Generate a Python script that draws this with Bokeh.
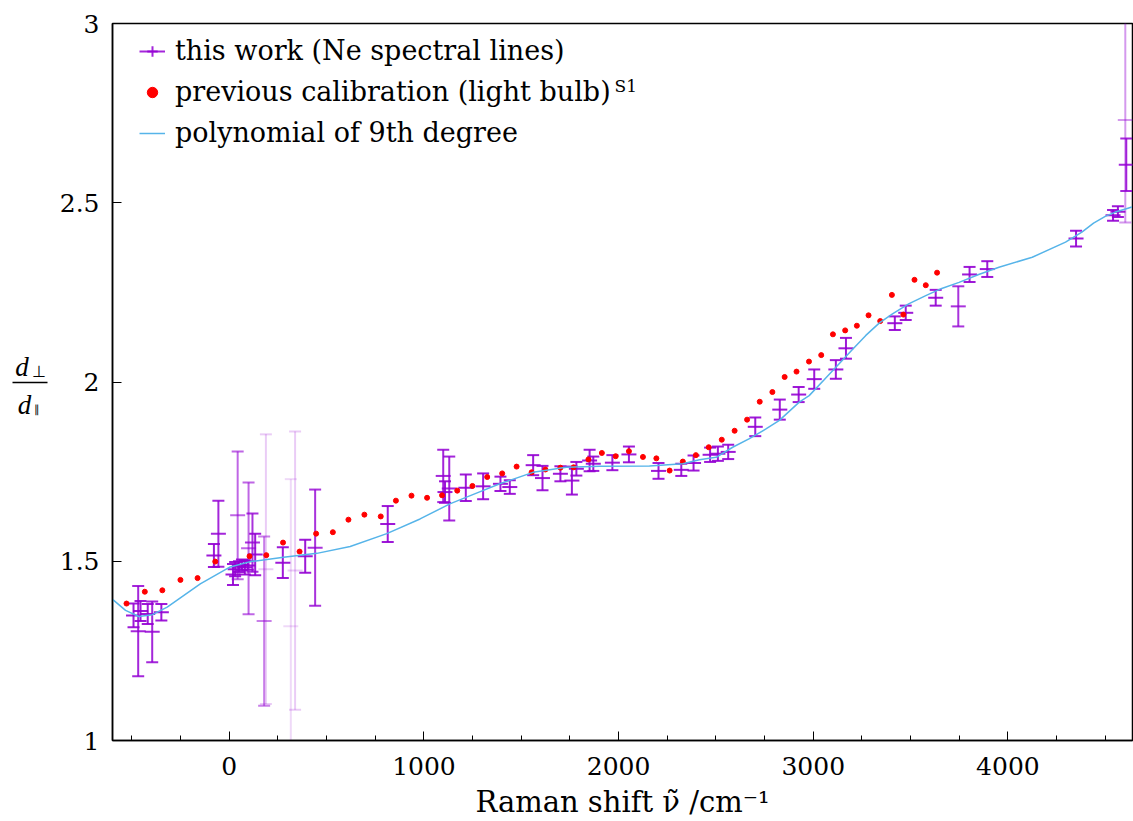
from bokeh.plotting import figure
from bokeh.layouts import row
from bokeh.models import (Range1d, FixedTicker, Label, Legend, LegendItem,
                          ColumnDataSource)
from bokeh.embed import file_html
from bokeh.resources import INLINE

# ---------------- data ----------------
# this work (Ne spectral lines): Raman shift, ratio, error, opacity (weight)
ne_x = [-492, -468, -456, -419, -396, -349,
        -79, -56, 19, 30, 50, 65, 80, 95, 43, 99, 119, 133, 179, 188, 275, 316, 338, 390, 441,
        814, 1099, 1108, 1130, 1215, 1304, 1393, 1441, 1561, 1609, 1701, 1760, 1783, 1851, 1870,
        1968, 2053, 2205, 2322, 2385, 2470, 2510, 2563, 2702, 2828, 2925, 3005, 3116, 3168,
        3419, 3475, 3629, 3745, 3803, 3894, 4350, 4540, 4565, 4608, 4603]
ne_y = [1.349, 1.305, 1.361, 1.353, 1.303, 1.358,
        1.516, 1.577, 1.463, 1.478, 1.485, 1.490, 1.483, 1.488, 1.628, 1.536, 1.552, 1.519,
        1.333, 1.478, 1.496, 1.319, 1.474, 1.514, 1.538,
        1.604, 1.738, 1.693, 1.703, 1.705, 1.709, 1.716, 1.707, 1.768, 1.732, 1.744, 1.725,
        1.758, 1.781, 1.772, 1.775, 1.798, 1.752, 1.755, 1.774, 1.797, 1.800, 1.805, 1.875,
        1.923, 1.965, 2.008, 2.035, 2.094, 2.164, 2.193, 2.235, 2.211, 2.300, 2.315, 2.400,
        2.465, 2.475, 2.606, 2.731]
ne_err = [0.033, 0.126, 0.028, 0.028, 0.085, 0.023,
          0.032, 0.092, 0.029, 0.020, 0.015, 0.015, 0.020, 0.012, 0.178, 0.184, 0.081, 0.058,
          0.236, 0.376, 0.043, 0.410, 0.388, 0.046, 0.162,
          0.050, 0.073, 0.030, 0.089, 0.037, 0.036, 0.020, 0.019, 0.028, 0.034, 0.021, 0.039,
          0.019, 0.030, 0.020, 0.021, 0.022, 0.022, 0.017, 0.021, 0.020, 0.020, 0.020, 0.026,
          0.028, 0.021, 0.027, 0.026, 0.029, 0.019, 0.020, 0.022, 0.056, 0.021, 0.022, 0.022,
          0.015, 0.015, 0.073, 0.286]
ne_alpha = [0.9, 0.85, 0.9, 0.9, 0.85, 0.9,
            0.9, 0.85, 0.9, 0.9, 0.9, 0.9, 0.9, 0.9, 0.6, 0.6, 0.8, 0.9, 0.5, 0.2, 0.9, 0.15,
            0.2, 0.9, 0.8,
            0.9, 0.85, 0.9, 0.85, 0.9, 0.9, 0.9, 0.9, 0.9, 0.9, 0.9, 0.9, 0.9, 0.9, 0.9, 0.9,
            0.9, 0.9, 0.9, 0.9, 0.9, 0.9, 0.9, 0.9, 0.9, 0.9, 0.9, 0.9, 0.9, 0.9, 0.9, 0.9,
            0.8, 0.9, 0.9, 0.9, 0.9, 0.9, 0.85, 0.4]

# previous calibration (light bulb)
prev_x = [-528, -434, -344, -251, -163, -72, 104, 190, 276, 361, 446, 532, 612, 694, 778,
          856, 936, 1016, 1093, 1171, 1249, 1325, 1402, 1476, 1553, 1624, 1701, 1769, 1845,
          1914, 1985, 2053, 2125, 2194, 2262, 2330, 2397, 2463, 2530, 2596, 2660, 2725, 2790,
          2853, 2914, 2978, 3041, 3101, 3164, 3224, 3284, 3344, 3404, 3463, 3520, 3578, 3636]
prev_y = [1.382, 1.415, 1.419, 1.448, 1.453, 1.499, 1.514, 1.517, 1.552, 1.527, 1.577, 1.581,
          1.616, 1.630, 1.625, 1.669, 1.683, 1.677, 1.684, 1.697, 1.710, 1.735, 1.745, 1.764,
          1.748, 1.756, 1.761, 1.762, 1.784, 1.802, 1.793, 1.807, 1.791, 1.787, 1.753, 1.778,
          1.796, 1.818, 1.839, 1.864, 1.895, 1.945, 1.972, 2.014, 2.029, 2.057, 2.075, 2.133,
          2.144, 2.157, 2.186, 2.170, 2.243, 2.188, 2.285, 2.270, 2.305]

# polynomial of 9th degree
poly_x = [-598, -533, -465, -395, -319, -149, 0, 108, 279, 450, 621, 809, 980, 1133, 1270,
          1390, 1560, 1732, 1903, 2159, 2330, 2415, 2501, 2586, 2672, 2757, 2826, 2928, 2979,
          3056, 3133, 3200, 3270, 3340, 3407, 3490, 3578, 3660, 3749, 3850, 3954, 4125, 4296,
          4380, 4440, 4500, 4552, 4600, 4637]
poly_y = [1.393, 1.363, 1.346, 1.351, 1.372, 1.437, 1.483, 1.499, 1.511, 1.522, 1.541, 1.577,
          1.618, 1.660, 1.690, 1.716, 1.748, 1.762, 1.765, 1.766, 1.772, 1.783, 1.790, 1.818,
          1.842, 1.869, 1.893, 1.944, 1.962, 2.006, 2.051, 2.090, 2.130, 2.165, 2.190, 2.218,
          2.241, 2.261, 2.278, 2.300, 2.320, 2.348, 2.390, 2.418, 2.443, 2.462, 2.474, 2.482,
          2.488]

x_major = [0, 1000, 2000, 3000, 4000]
x_minor = [-500, -250, 250, 500, 750, 1250, 1500, 1750, 2250, 2500, 2750, 3250, 3500, 3750,
           4250, 4500]
y_major = [1, 1.5, 2, 2.5, 3]

# off-screen proxies used only for the legend icon of the error bars
proxy_x = [-10000]
proxy_y = [-10]

# ---------------- figure ----------------
FONT = "DejaVu Serif"
VIOLET = "#9400d3"

p = figure(frame_width=1020, frame_height=717,
           x_range=Range1d(-600, 4640), y_range=Range1d(1, 3),
           output_backend="svg", toolbar_location=None,
           min_border_left=62, min_border_right=1, min_border_top=23,
           min_border_bottom=78)
p.xgrid.visible = False
p.ygrid.visible = False
p.outline_line_color = "black"
p.outline_line_width = 1.5
p.background_fill_color = "white"
p.border_fill_color = "white"

src = ColumnDataSource(dict(
    x=ne_x, y=ne_y,
    lo=[a - b for a, b in zip(ne_y, ne_err)],
    hi=[a + b for a, b in zip(ne_y, ne_err)],
    alpha=ne_alpha))

p.segment(x0="x", y0="lo", x1="x", y1="hi", source=src, line_color=VIOLET,
          line_alpha="alpha", line_width=2)
p.scatter(x="x", y="lo", source=src, marker="dash", size=12, line_color=VIOLET,
          line_alpha="alpha", line_width=2)
p.scatter(x="x", y="hi", source=src, marker="dash", size=12, line_color=VIOLET,
          line_alpha="alpha", line_width=2)
p.scatter(x="x", y="y", source=src, marker="dash", size=15, line_color=VIOLET,
          line_alpha="alpha", line_width=2)

r_prev = p.scatter(prev_x, prev_y, size=5, color="red", line_color="red")
r_poly = p.line(poly_x, poly_y, line_color="#56b4e9", line_width=1.5)

r_leg1 = p.line(proxy_x, proxy_y, line_color=VIOLET, line_width=2, line_alpha=0.85)
r_leg2 = p.scatter(proxy_x, proxy_y, marker="cross", size=14, line_color=VIOLET,
                   line_width=2, line_alpha=0.85)

legend = Legend(items=[
    LegendItem(label="this work (Ne spectral lines)", renderers=[r_leg1, r_leg2]),
    LegendItem(label="previous calibration (light bulb)", renderers=[r_prev]),
    LegendItem(label="polynomial of 9th degree", renderers=[r_poly]),
], location=(27, 587), orientation="vertical")
legend.border_line_color = None
legend.background_fill_alpha = 0
legend.label_text_font = FONT
legend.label_text_font_size = "27px"
legend.label_text_color = "black"
legend.label_height = 41
legend.glyph_height = 30
legend.glyph_width = 26
legend.label_standoff = 10
legend.spacing = 0
legend.padding = 6
legend.margin = 0
p.add_layout(legend)

p.add_layout(Label(x=1979, y=2.853, text="S1", text_font=FONT, text_color="black",
                   text_font_size="17px", text_baseline="top", text_align="left"))

# axes
p.xaxis.ticker = FixedTicker(ticks=x_major, minor_ticks=x_minor)
p.yaxis.ticker = FixedTicker(ticks=y_major, minor_ticks=[])
p.yaxis.major_label_overrides = {1: "1", 1.5: "1.5", 2: "2", 2.5: "2.5", 3: "3"}
for ax in (p.xaxis, p.yaxis):
    ax.major_label_text_font = FONT
    ax.major_label_text_font_size = "25px"
    ax.major_label_text_color = "black"
    ax.major_tick_in = 9
    ax.major_tick_out = 0
    ax.minor_tick_in = 5
    ax.minor_tick_out = 0
    ax.axis_line_color = "black"
    ax.major_tick_line_color = "black"
    ax.minor_tick_line_color = "black"
    ax.axis_line_width = 1.5
p.xaxis.major_label_standoff = 16
p.yaxis.major_label_standoff = 13
p.xaxis.axis_label = "Raman shift ν̃ /cm⁻¹"
p.xaxis.axis_label_text_font = FONT
p.xaxis.axis_label_text_font_size = "29px"
p.xaxis.axis_label_text_font_style = "normal"
p.xaxis.axis_label_text_color = "black"
p.xaxis.axis_label_standoff = 7

# ---------------- y label: stacked fraction d_perp / d_par ----------------
q = figure(frame_width=50, frame_height=717, x_range=Range1d(0, 50), y_range=Range1d(1, 3),
           output_backend="svg", toolbar_location=None,
           x_axis_location=None, y_axis_location=None,
           min_border_left=0, min_border_right=0, min_border_top=23, min_border_bottom=78)
q.grid.visible = False
q.outline_line_color = None
q.border_fill_color = "white"
q.background_fill_color = "white"

q.text(x=[21.5], y=[2.041], text=["d"], text_font=FONT, text_font_size="27px",
       text_font_style="italic", text_align="center", text_baseline="alphabetic",
       text_color="black")
q.text(x=[38], y=[2.028], text=["⊥"], text_font="DejaVu Sans", text_font_size="16px",
       text_align="center", text_baseline="alphabetic", text_color="black")
q.segment(x0=[12], y0=[1.9986], x1=[47], y1=[1.9986], line_color="black", line_width=1.3)
q.text(x=[24], y=[1.935], text=["d"], text_font=FONT, text_font_size="27px",
       text_font_style="italic", text_align="center", text_baseline="alphabetic",
       text_color="black")
q.text(x=[36.5], y=[1.925], text=["∥"], text_font="DejaVu Sans", text_font_size="11px",
       text_align="center", text_baseline="alphabetic", text_color="black")

layout = row(q, p)
open("out.html", "w").write(file_html(layout, INLINE))
